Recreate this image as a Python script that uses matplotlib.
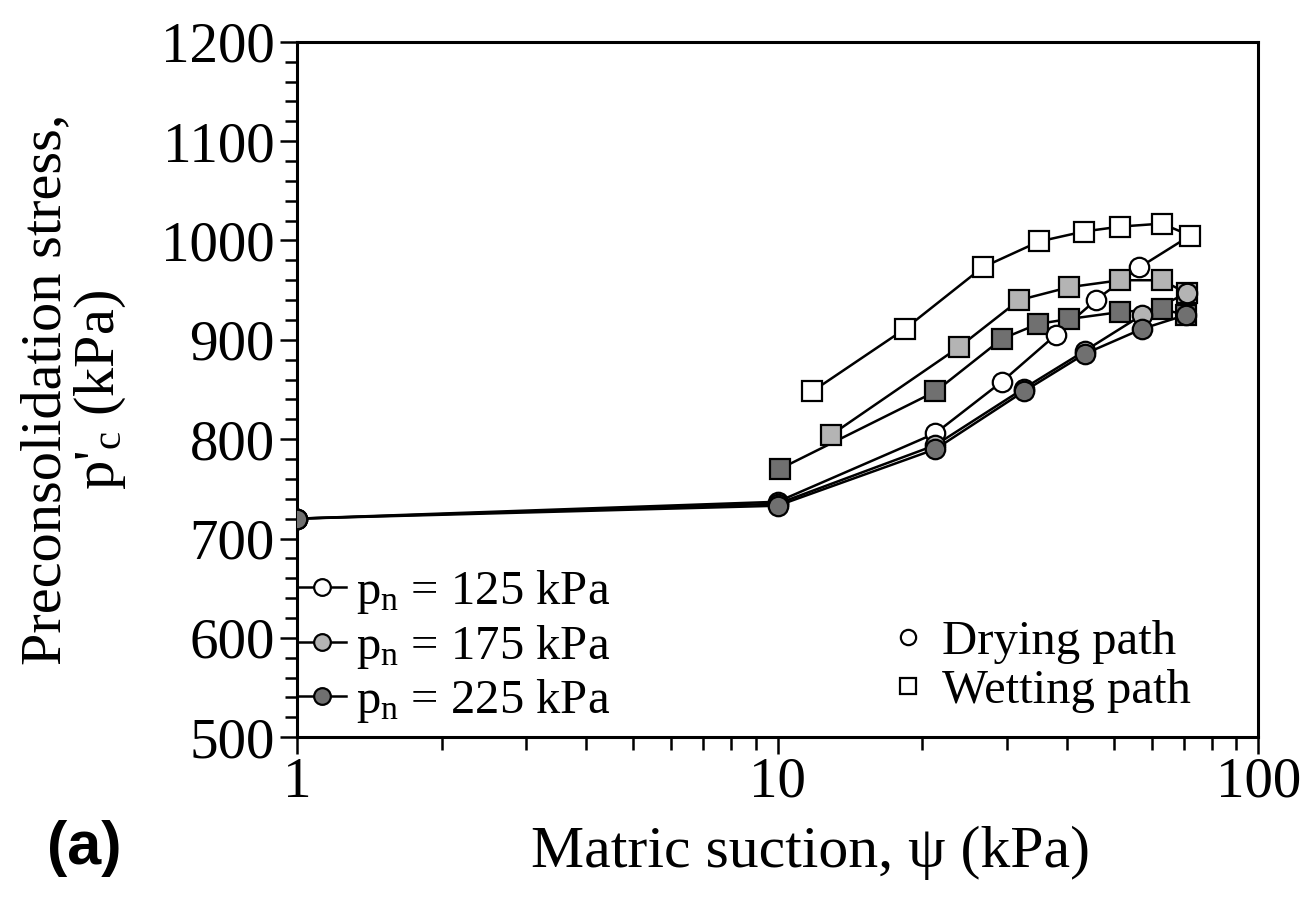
import matplotlib
matplotlib.use('Agg')
import matplotlib.pyplot as plt
from matplotlib.lines import Line2D
import numpy as np

plt.rcParams['font.family'] = ['Liberation Serif', 'DejaVu Serif']
plt.rcParams['mathtext.fontset'] = 'custom'
plt.rcParams['mathtext.rm'] = 'Liberation Serif'
plt.rcParams['mathtext.it'] = 'Liberation Serif:italic'

# drying path (circles)
dry125_x = [1, 10, 21.3, 29.3, 37.9, 45.9, 56.6, 72.2]
dry125_y = [720, 737, 806, 858, 905, 940, 973, 1005]
dry175_x = [1, 10, 21.3, 32.5, 43.6, 57.3, 71.0]
dry175_y = [720, 735, 794, 851, 889, 925, 947]
dry225_x = [1, 10, 21.3, 32.5, 43.6, 57.3, 70.6]
dry225_y = [720, 733, 790, 848, 886, 911, 925]

# wetting path (squares)
wet125_x = [72.2, 63.0, 51.6, 43.3, 35.0, 26.7, 18.4, 11.8]
wet125_y = [1005, 1017, 1014, 1009, 999, 973, 911, 848]
wet175_x = [71.0, 63.0, 51.6, 40.4, 31.8, 23.9, 12.9]
wet175_y = [947, 960, 960, 953, 940, 893, 804]
wet225_x = [70.6, 63.0, 51.6, 40.4, 34.8, 29.3, 21.3, 10.1]
wet225_y = [925, 931, 928, 921, 916, 901, 848, 770]

pn_labels = ['125', '175', '225']
fills = ['white', '#b4b4b4', '#707070']

fig = plt.figure(figsize=(13.08, 9.09), dpi=100)
ax = fig.add_axes([0.227, 0.189, 0.735, 0.765])

wets = [(wet125_x, wet125_y), (wet175_x, wet175_y), (wet225_x, wet225_y)]
drys = [(dry125_x, dry125_y), (dry175_x, dry175_y), (dry225_x, dry225_y)]

for (wx, wy), fc in zip(wets, fills):
	ax.plot(wx, wy, '-', color='black', lw=1.8, zorder=2)
	ax.plot(wx, wy, 's', mfc=fc, mec='black', mew=1.6, ms=15, zorder=3)

for i, ((dx, dy), fc) in enumerate(zip(drys, fills)):
	ax.plot(dx, dy, '-', color='black', lw=1.8, zorder=2)
	# last drying point is shared with the wetting path (square marker)
	mk = dx[:-1] if i == 0 else dx
	mky = dy[:-1] if i == 0 else dy
	ax.plot(mk, mky, 'o', mfc=fc, mec='black', mew=1.6, ms=14, zorder=4)

ax.set_xscale('log')
ax.set_xlim(1, 100)
ax.set_ylim(500, 1200)
ax.set_yticks(np.arange(500, 1201, 100))
ax.set_yticks(np.arange(500, 1201, 20), minor=True)
ax.set_xticks([1, 10, 100])
ax.set_xticklabels(['1', '10', '100'])
ax.tick_params(axis='both', which='major', direction='out', length=12, width=1.8, labelsize=41, pad=4)
ax.tick_params(axis='x', which='major', pad=2)
ax.tick_params(axis='both', which='minor', direction='out', length=9, width=1.8)
for s in ax.spines.values():
	s.set_linewidth(2.2)

ax.set_xlabel(r'Matric suction, ψ (kPa)', fontsize=43)
ax.xaxis.set_label_coords(0.534, -0.128)
ax.set_ylabel("Preconsolidation stress,\np'$_{\\mathrm{c}}$ (kPa)", fontsize=42, linespacing=1.0)
ax.yaxis.set_label_coords(-0.176, 0.5)

h1 = [Line2D([], [], color='black', lw=1.8, marker='o', mfc=fc, mec='black', mew=1.6, ms=12) for fc in fills]
leg1 = ax.legend(h1, ['p$_{\\mathrm{n}}$ = %s kPa' % p for p in pn_labels], loc='lower left',
	bbox_to_anchor=(-0.03, -0.025), frameon=False, fontsize=35, handlelength=1.0,
	handletextpad=0.2, labelspacing=0.14, borderaxespad=0.2)
ax.add_artist(leg1)

h2 = [Line2D([], [], ls='none', marker='o', mfc='white', mec='black', mew=1.6, ms=11),
	Line2D([], [], ls='none', marker='s', mfc='white', mec='black', mew=1.6, ms=12)]
ax.legend(h2, ['Drying path', 'Wetting path'], loc='lower right', bbox_to_anchor=(0.955, 0.0),
	frameon=False, fontsize=35, handlelength=0.6, handletextpad=0.4, labelspacing=0.1,
	borderaxespad=0.1)

fig.text(0.036, 0.05, '(a)', fontsize=44, fontweight='bold', family='Liberation Sans')

plt.savefig('out.png', dpi=100)
